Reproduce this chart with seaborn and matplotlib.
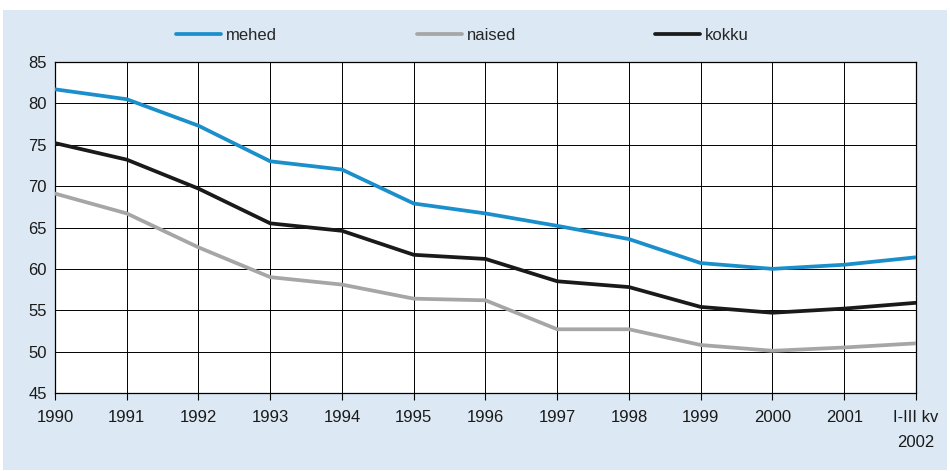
import matplotlib
matplotlib.use("Agg")
import matplotlib.pyplot as plt
import matplotlib.patches as mpatches
import seaborn as sns
import pandas as pd
import numpy as np

categories = ["1990", "1991", "1992", "1993", "1994", "1995", "1996",
              "1997", "1998", "1999", "2000", "2001", "I-III kv\n2002"]
mehed = [81.7, 80.5, 77.3, 73.0, 72.0, 67.9, 66.7, 65.2, 63.6, 60.7, 60.0, 60.5, 61.4]
naised = [69.1, 66.7, 62.6, 59.0, 58.1, 56.4, 56.2, 52.7, 52.7, 50.8, 50.1, 50.5, 51.0]
kokku = [75.2, 73.2, 69.7, 65.5, 64.6, 61.7, 61.2, 58.5, 57.8, 55.4, 54.7, 55.2, 55.9]
series_names = ["mehed", "naised", "kokku"]
colors = {"mehed": "#1a8fcc", "naised": "#a6a6a6", "kokku": "#1a1a1a"}

rows = []
for name, vals in zip(series_names, [mehed, naised, kokku]):
    for i, v in enumerate(vals):
        rows.append({"pos": i, "value": v, "series": name})
df = pd.DataFrame(rows)

sns.set_theme(style="white")
plt.rcParams['font.family'] = ['Liberation Sans', 'DejaVu Sans']

fig = plt.figure(figsize=(9.5, 4.71), dpi=100, facecolor="white")
W, H = 950, 471
bg = mpatches.Rectangle((3 / W, 1 - 470 / H), 944 / W, 460 / H,
                        transform=fig.transFigure, facecolor="#dce9f4",
                        edgecolor="none", zorder=0)
fig.patches.append(bg)

ax = fig.add_axes([55 / W, 1 - 393 / H, (916 - 55) / W, (393 - 62) / H])
ax.set_facecolor("white")
ax.set_zorder(1)

sns.lineplot(data=df, x="pos", y="value", hue="series", palette=colors,
             hue_order=series_names, linewidth=2.7, ax=ax, legend=False,
             zorder=3)

ax.set_xlim(0, len(categories) - 1)
ax.set_ylim(45, 85)
ax.set_yticks(np.arange(45, 86, 5))
ax.set_xticks(range(len(categories)))
ax.set_xticklabels(categories, linespacing=1.9, va="top")
ax.grid(True, color="black", linewidth=0.7)
ax.set_axisbelow(True)
for s in ax.spines.values():
    s.set_color("black")
    s.set_linewidth(0.9)
ax.tick_params(axis="x", direction="out", length=5, width=0.8, color="black",
               labelsize=12, pad=7, bottom=True)
ax.tick_params(axis="y", direction="out", length=0, labelsize=12, pad=6, left=False)
ax.set_xlabel("")
ax.set_ylabel("")
for lbl in ax.get_xticklabels() + ax.get_yticklabels():
    lbl.set_color("#1a1a1a")

handles = [plt.Line2D([], [], color=colors[n], linewidth=2.7) for n in series_names]
fig.legend(handles, series_names, loc="center", bbox_to_anchor=(0.487, 1 - 35 / H),
           ncol=3, frameon=False, fontsize=12, columnspacing=8.35,
           handlelength=2.7, handletextpad=0.3)

fig.savefig("out.png", dpi=100, facecolor="white")
